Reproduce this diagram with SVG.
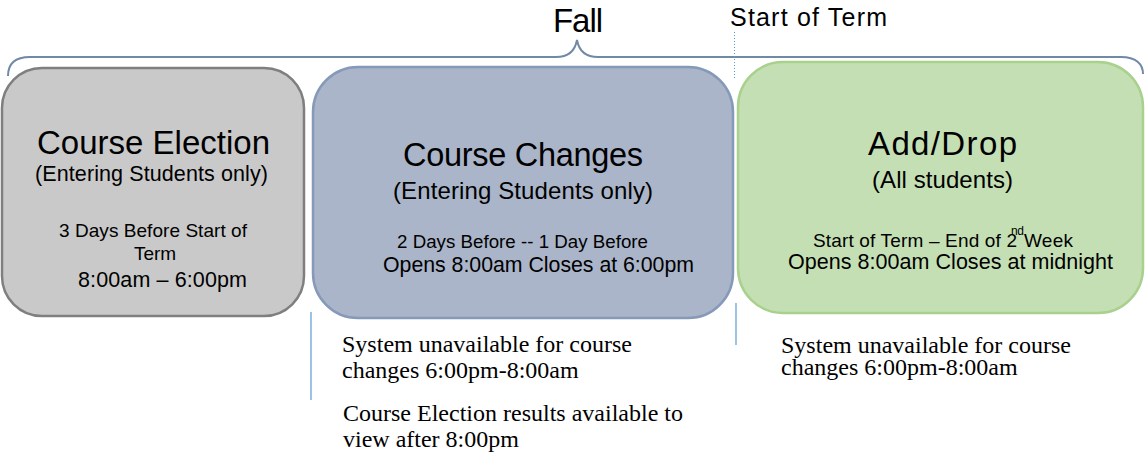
<svg xmlns="http://www.w3.org/2000/svg" width="1147" height="454" viewBox="0 0 1147 454">
<style>
.s{font-family:"Liberation Sans",Arial,sans-serif;fill:#000}
.t{font-family:"Liberation Serif","Times New Roman",serif;fill:#000;font-size:24px}
.brace{fill:none;stroke:#7189a5;stroke-width:2}
.vl{stroke:#5b9bd5;stroke-width:1.2;fill:none}
</style>
<rect width="1147" height="454" fill="#fff"/>
<g id="header">
<path class="brace" d="M8,76 C8,64 14,57 30,57 L556,57 C569,57 575,51 577,40 C579,51 585,57 598,57 L1121,57 C1136,57 1143,64 1143,74"/>
<text class="s" x="553" y="32" font-size="33" textLength="50">Fall</text>
<text class="s" x="730" y="26" font-size="25" textLength="157">Start of Term</text>
<line x1="734.5" y1="32" x2="734.5" y2="78" stroke="#5b9bd5" stroke-width="1" stroke-dasharray="1,2"/>
</g>
<g id="course-election">
<rect x="2" y="68" width="302" height="248" rx="40" fill="#c9c9c9" stroke="#7f7f7f" stroke-width="2.5"/>
<text class="s" x="37" y="154" font-size="33" textLength="233">Course Election</text>
<text class="s" x="35" y="181" font-size="21.5" textLength="233">(Entering Students only)</text>
<text class="s" x="59" y="237" font-size="19" textLength="188">3 Days Before Start of</text>
<text class="s" x="155" y="260" font-size="19" text-anchor="middle">Term</text>
<text class="s" x="78" y="287" font-size="21.5" textLength="169">8:00am – 6:00pm</text>
</g>
<g id="course-changes">
<rect x="313" y="67" width="420" height="251" rx="45" fill="#aab5c9" stroke="#8599b8" stroke-width="2.5"/>
<text class="s" x="403" y="166" font-size="32.5" textLength="240">Course Changes</text>
<text class="s" x="393" y="199" font-size="24" textLength="260">(Entering Students only)</text>
<text class="s" x="397" y="248" font-size="18.7" textLength="251">2 Days Before -- 1 Day Before</text>
<text class="s" x="383" y="272" font-size="21.3" textLength="311">Opens 8:00am Closes at 6:00pm</text>
</g>
<g id="add-drop">
<rect x="738" y="62" width="405" height="251" rx="45" fill="#c5dfb4" stroke="#a9d18e" stroke-width="2.5"/>
<text class="s" x="868" y="155" font-size="33" textLength="149">Add/Drop</text>
<text class="s" x="872" y="188" font-size="24" textLength="141">(All students)</text>
<text class="s" x="813" y="247" font-size="19" textLength="204">Start of Term – End of 2</text>
<text class="s" x="1011" y="235" font-size="12" textLength="13">nd</text>
<text class="s" x="1024" y="247" font-size="19" textLength="49">Week</text>
<text class="s" x="788" y="269" font-size="21.5" textLength="325">Opens 8:00am Closes at midnight</text>
</g>
<g id="connectors">
<line class="vl" x1="311" y1="312" x2="311" y2="400"/>
<line class="vl" x1="736" y1="303" x2="736" y2="345"/>
</g>
<g id="notes-left">
<text class="t" x="342" y="352" textLength="290">System unavailable for course</text>
<text class="t" x="342" y="378">changes 6:00pm-8:00am</text>
<text class="t" x="343" y="421" textLength="340">Course Election results available to</text>
<text class="t" x="343" y="447">view after 8:00pm</text>
</g>
<g id="notes-right">
<text class="t" x="781" y="353" textLength="290">System unavailable for course</text>
<text class="t" x="781" y="375">changes 6:00pm-8:00am</text>
</g>
</svg>
